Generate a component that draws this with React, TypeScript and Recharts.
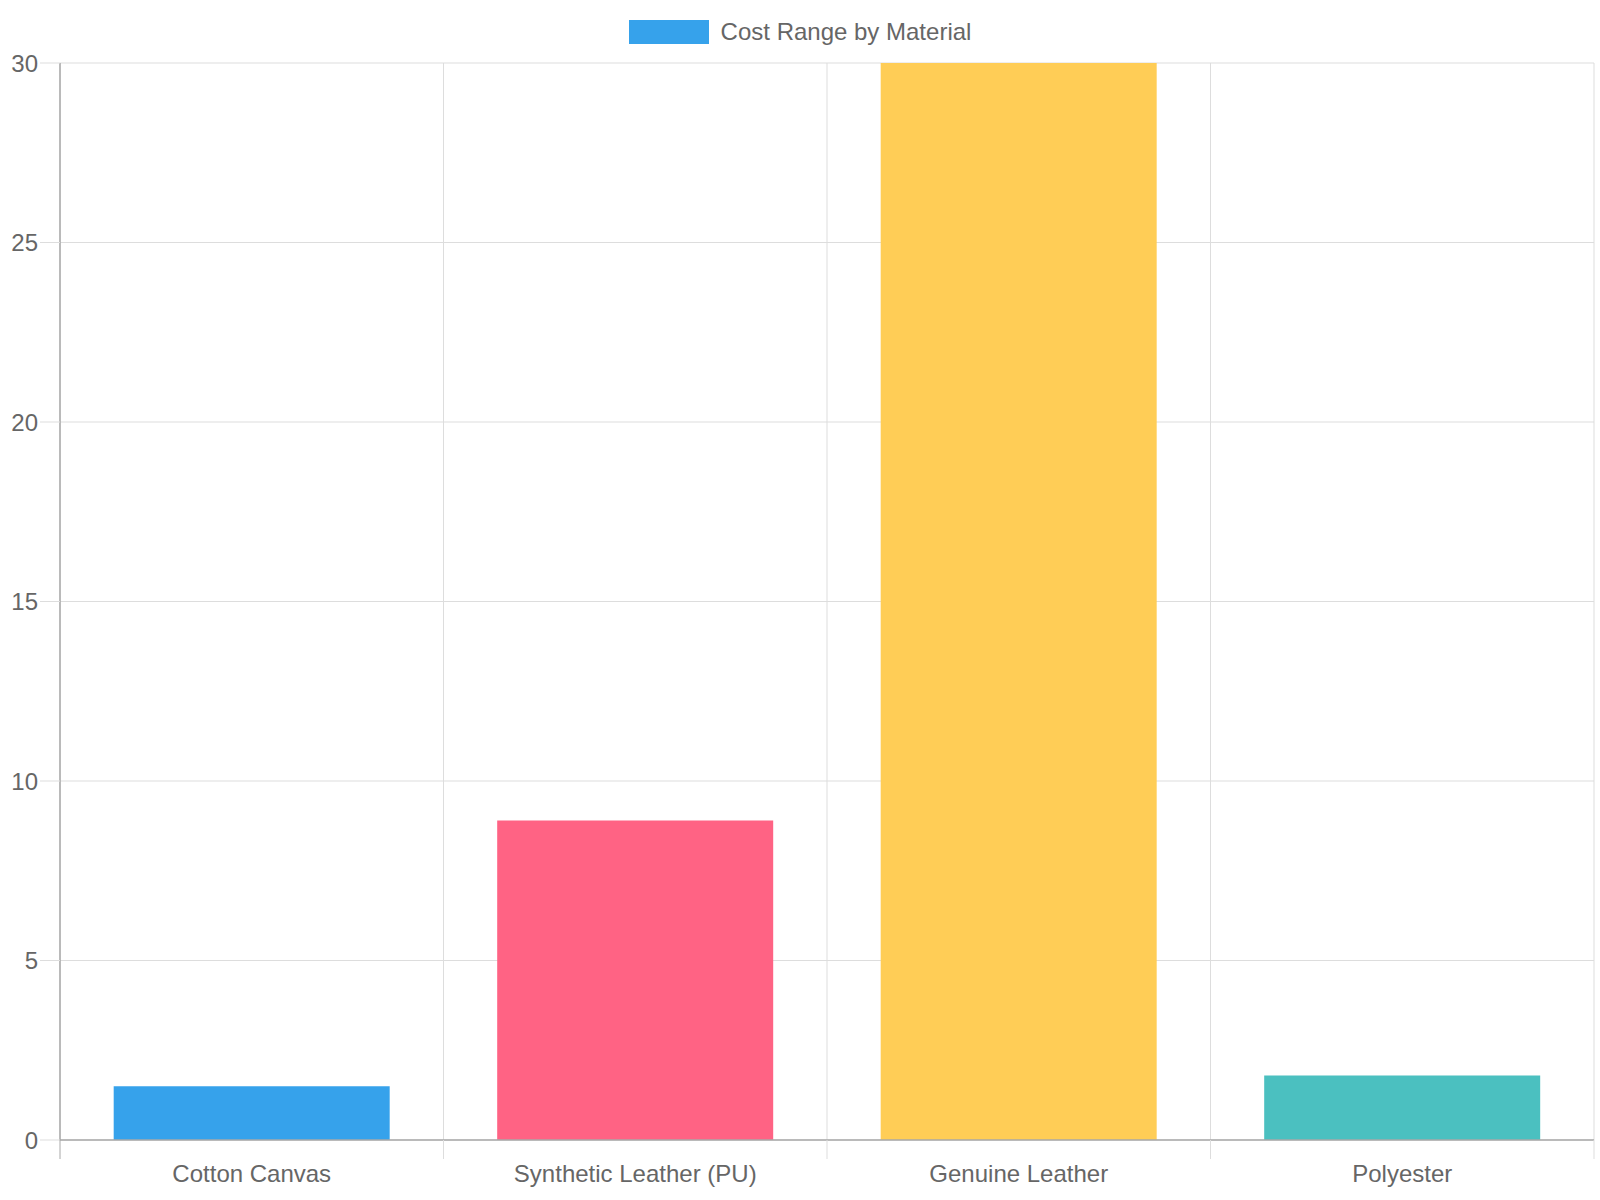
import React from "react";
import { BarChart, Bar, Cell, XAxis, YAxis, CartesianGrid, Legend } from "recharts";

// categories and values
const materials = ["Cotton Canvas", "Synthetic Leather (PU)", "Genuine Leather", "Polyester"];
const costs = [1.5, 8.9, 30, 1.8];
const yTicks = [0, 5, 10, 15, 20, 25, 30];
const seriesName = "Cost Range by Material";

const barColors = ["#36A2EB", "#FF6384", "#FFCD56", "#4BC0C0"];

const data = materials.map((material, i) => ({ material, cost: costs[i] }));

const FONT = "'Liberation Sans', Arial, sans-serif";
const TEXT = "#666666";
const GRID = "#dddddd";
const AXIS = "#a8a8a8";

function LegendContent({ payload }: any) {
  const item = payload && payload[0];
  return (
    <div style={{ display: "flex", justifyContent: "center", alignItems: "center", height: 24 }}>
      <span style={{ display: "inline-block", width: 80, height: 24, background: barColors[0], marginRight: 12 }} />
      <span style={{ fontFamily: FONT, fontSize: 24, color: TEXT, lineHeight: "24px" }}>
        {item ? item.value : seriesName}
      </span>
    </div>
  );
}

// category label plus the boundary tick marks below the axis (chart.js offset grid style)
function CategoryTick(props: any) {
  const { x, y, payload, index, width, visibleTicksCount } = props;
  const band = width / visibleTicksCount;
  const left = x - band / 2;
  const right = x + band / 2;
  return (
    <g>
      <line x1={left} y1={y} x2={left} y2={y + 19} stroke={index === 0 ? AXIS : GRID} />
      {index === visibleTicksCount - 1 && <line x1={right} y1={y} x2={right} y2={y + 19} stroke={GRID} />}
      <text x={x} y={y + 25} dy="0.71em" textAnchor="middle" fill={TEXT} fontSize={24} fontFamily={FONT}>
        {payload.value}
      </text>
    </g>
  );
}

export default function App() {
  return (
    <div style={{ position: "absolute", left: 0, top: 0, width: 1600, height: 1200, background: "#fff" }}>
      <BarChart
        width={1600}
        height={1200}
        data={data}
        margin={{ top: 39, right: 6, bottom: 0, left: 0 }}
        barCategoryGap="14%"
      >
        <CartesianGrid
          stroke={GRID}
          strokeWidth={1}
          verticalCoordinatesGenerator={({ offset }: any) =>
            materials.concat([""]).map((_, i) => offset.left + (i * offset.width) / materials.length)
          }
        />
        <XAxis
          dataKey="material"
          height={60}
          axisLine={{ stroke: AXIS, strokeWidth: 1.5 }}
          tickLine={false}
          tickSize={0}
          tickMargin={0}
          interval={0}
          tick={<CategoryTick />}
        />
        <YAxis
          width={60}
          domain={[0, 30]}
          ticks={yTicks}
          allowDataOverflow
          axisLine={{ stroke: AXIS, strokeWidth: 1.5 }}
          tickLine={{ stroke: GRID }}
          tickSize={20}
          tickMargin={2}
          tick={{ fill: TEXT, fontSize: 24, fontFamily: FONT }}
        />
        <Legend
          verticalAlign="top"
          align="center"
          content={<LegendContent />}
          wrapperStyle={{ top: 20, left: 0, width: 1600, height: 24 }}
        />
        <Bar dataKey="cost" name={seriesName} fill={barColors[0]} isAnimationActive={false}>
          {data.map((d, i) => (
            <Cell key={d.material} fill={barColors[i]} />
          ))}
        </Bar>
      </BarChart>
    </div>
  );
}
